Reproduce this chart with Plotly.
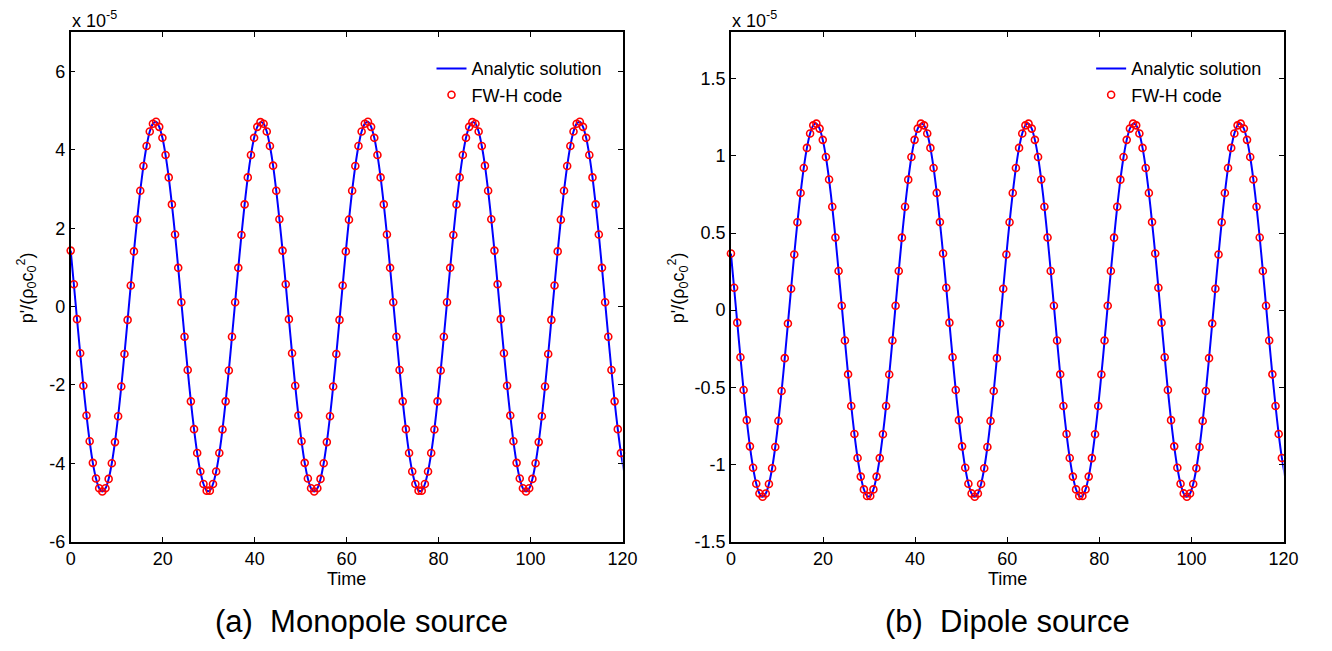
import plotly.graph_objects as go

# ---------------- data ----------------
# sampling of the FW-H code output (time)
t_start = 0.0
t_step = 0.6876

# Monopole source, p'/(rho0 c0^2) in units of 1e-5
monopole = [
    1.43, 0.57, -0.32, -1.19, -2.02, -2.78, -3.44, -3.99, -4.39, -4.64,
    -4.72, -4.64, -4.40, -4.00, -3.46, -2.80, -2.04, -1.21, -0.34, 0.54,
    1.41, 2.22, 2.96, 3.59, 4.10, 4.47, 4.67, 4.72, 4.59, 4.31,
    3.87, 3.30, 2.61, 1.84, 0.99, 0.11, -0.77, -1.62, -2.42, -3.13,
    -3.74, -4.21, -4.53, -4.70, -4.70, -4.53, -4.21, -3.74, -3.14, -2.42,
    -1.63, -0.77, 0.11, 0.99, 1.83, 2.61, 3.30, 3.87, 4.31, 4.59,
    4.71, 4.67, 4.47, 4.10, 3.60, 2.96, 2.23,
    1.43, 0.57, -0.32, -1.19, -2.02, -2.78, -3.44, -3.99, -4.39, -4.64,
    -4.72, -4.64, -4.40, -4.00, -3.46, -2.80, -2.04, -1.21, -0.34, 0.54,
    1.41, 2.22, 2.96, 3.59, 4.10, 4.47, 4.67, 4.72, 4.59, 4.31,
    3.87, 3.30, 2.61, 1.84, 0.99, 0.11, -0.77, -1.62, -2.42, -3.13,
    -3.74, -4.21, -4.53, -4.70, -4.70, -4.53, -4.21, -3.74, -3.14, -2.42,
    -1.63, -0.77, 0.11, 0.99, 1.83, 2.61, 3.30, 3.87, 4.31, 4.59,
    4.71, 4.67, 4.47, 4.10, 3.60, 2.96, 2.23,
    1.43, 0.57, -0.32, -1.19, -2.02, -2.78, -3.44, -3.99, -4.39, -4.64,
    -4.72, -4.64, -4.40, -4.00, -3.46, -2.80, -2.04, -1.21, -0.34, 0.54,
    1.41, 2.22, 2.96, 3.59, 4.10, 4.47, 4.67, 4.72, 4.59, 4.31,
    3.87, 3.30, 2.61, 1.84, 0.99, 0.11, -0.77, -1.62, -2.42, -3.13,
    -3.74, -4.21,
]

# Dipole source, p'/(rho0 c0^2) in units of 1e-5
dipole = [
    0.367, 0.145, -0.081, -0.305, -0.518, -0.713, -0.883, -1.022, -1.125, -1.188,
    -1.210, -1.189, -1.127, -1.025, -0.887, -0.718, -0.524, -0.311, -0.087, 0.139,
    0.361, 0.570, 0.759, 0.922, 1.052, 1.145, 1.198, 1.209, 1.177, 1.104,
    0.993, 0.847, 0.670, 0.471, 0.254, 0.029, -0.197, -0.416, -0.621, -0.803,
    -0.958, -1.079, -1.162, -1.205, -1.205, -1.162, -1.079, -0.959, -0.804, -0.621,
    -0.417, -0.197, 0.029, 0.254, 0.470, 0.670, 0.846, 0.993, 1.104, 1.177,
    1.209, 1.198, 1.145, 1.052, 0.922, 0.760, 0.571,
    0.367, 0.145, -0.081, -0.305, -0.518, -0.713, -0.883, -1.022, -1.125, -1.188,
    -1.210, -1.189, -1.127, -1.025, -0.887, -0.718, -0.524, -0.311, -0.087, 0.139,
    0.361, 0.570, 0.759, 0.922, 1.052, 1.145, 1.198, 1.209, 1.177, 1.104,
    0.993, 0.847, 0.670, 0.471, 0.254, 0.029, -0.197, -0.416, -0.621, -0.803,
    -0.958, -1.079, -1.162, -1.205, -1.205, -1.162, -1.079, -0.959, -0.804, -0.621,
    -0.417, -0.197, 0.029, 0.254, 0.470, 0.670, 0.846, 0.993, 1.104, 1.177,
    1.209, 1.198, 1.145, 1.052, 0.922, 0.760, 0.571,
    0.367, 0.145, -0.081, -0.305, -0.518, -0.713, -0.883, -1.022, -1.125, -1.188,
    -1.210, -1.189, -1.127, -1.025, -0.887, -0.718, -0.524, -0.311, -0.087, 0.139,
    0.361, 0.570, 0.759, 0.922, 1.052, 1.145, 1.198, 1.209, 1.177, 1.104,
    0.993, 0.847, 0.670, 0.471, 0.254, 0.029, -0.197, -0.416, -0.621, -0.803,
    -0.958, -1.079,
]

x_ticks = [0, 20, 40, 60, 80, 100, 120]
x_ticklabels = ["0", "20", "40", "60", "80", "100", "120"]
ya_ticks = [-6, -4, -2, 0, 2, 4, 6]
ya_ticklabels = ["-6", "-4", "-2", "0", "2", "4", "6"]
yb_ticks = [-1.5, -1, -0.5, 0, 0.5, 1, 1.5]
yb_ticklabels = ["-1.5", "-1", "-0.5", "0", "0.5", "1", "1.5"]

series_names = ["Analytic solution", "FW-H code"]
captions = ["(a)\u00a0\u00a0Monopole source", "(b)\u00a0\u00a0Dipole source"]

# ---------------- figure ----------------
W, H = 1332, 651
FONT = "Liberation Sans, Arial, Helvetica, sans-serif"


def fx(p):
    return p / W


def fy(p):
    return 1 - p / H


BLUE = "#0000FF"
RED = "#FF0000"

fig = go.Figure()

for data, xa, ya, lg in [(monopole, "x", "y", "legend"), (dipole, "x2", "y2", "legend2")]:
    fig.add_trace(go.Scatter(
        x0=t_start, dx=t_step, y=data, mode="lines", name=series_names[0],
        line=dict(color=BLUE, width=2, shape="spline", smoothing=0.8),
        xaxis=xa, yaxis=ya, legend=lg, cliponaxis=True,
    ))
    fig.add_trace(go.Scatter(
        x0=t_start, dx=t_step, y=data, mode="markers", name=series_names[1],
        marker=dict(symbol="circle-open", size=7, color=RED, line=dict(width=1.6, color=RED)),
        xaxis=xa, yaxis=ya, legend=lg, cliponaxis=False,
    ))

axis_common = dict(
    showline=True, linecolor="black", linewidth=1.5, mirror="ticks",
    ticks="inside", ticklen=5, tickwidth=1, tickcolor="black",
    showgrid=False, zeroline=False,
    tickfont=dict(family=FONT, size=18, color="black"),
)

x_left_a, x_right_a = 66.7, 627
x_left_b, x_right_b = 737, 1298
y_top, y_bot = 33, 550

fig.update_layout(
    width=W, height=H,
    margin=dict(l=0, r=0, t=0, b=0),
    paper_bgcolor="white", plot_bgcolor="white",
    font=dict(family=FONT, size=18, color="black"),
    xaxis=dict(domain=[fx(x_left_a), fx(x_right_a)], range=[0, 120], anchor="y",
               tickvals=x_ticks, ticktext=x_ticklabels, **axis_common),
    yaxis=dict(domain=[fy(y_bot), fy(y_top)], range=[-6, 7], anchor="x",
               tickvals=ya_ticks, ticktext=ya_ticklabels, **axis_common),
    xaxis2=dict(domain=[fx(x_left_b), fx(x_right_b)], range=[0, 120], anchor="y2",
                tickvals=x_ticks, ticktext=x_ticklabels, **axis_common),
    yaxis2=dict(domain=[fy(y_bot), fy(y_top)], range=[-1.5, 1.8], anchor="x2",
                tickvals=yb_ticks, ticktext=yb_ticklabels, **axis_common),
    legend=dict(x=fx(433), y=fy(51), xanchor="left", yanchor="top",
                bgcolor="rgba(0,0,0,0)", font=dict(family=FONT, size=18, color="black")),
    legend2=dict(x=fx(1102.7), y=fy(51), xanchor="left", yanchor="top",
                 bgcolor="rgba(0,0,0,0)", font=dict(family=FONT, size=18, color="black")),
    showlegend=True,
)

ylab = "p'/(\u03c1<sub>0</sub>c<sub>0</sub><sup>2</sup>)"
annots = []
for xl, xr, ylx, cap in [(x_left_a, x_right_a, 22, captions[0]), (x_left_b, x_right_b, 683, captions[1])]:
    annots.append(dict(text="Time", x=fx((xl + xr) / 2), y=fy(588), xref="paper", yref="paper",
                       xanchor="center", yanchor="middle", showarrow=False,
                       font=dict(family=FONT, size=18, color="black")))
    annots.append(dict(text=ylab, x=fx(ylx), y=fy(292), xref="paper", yref="paper",
                       xanchor="center", yanchor="middle", showarrow=False, textangle=-90,
                       font=dict(family=FONT, size=18, color="black")))
    annots.append(dict(text="x 10<sup>-5</sup>", x=fx(xl - 1), y=fy(34), xref="paper", yref="paper",
                       xanchor="left", yanchor="bottom", showarrow=False,
                       font=dict(family=FONT, size=18, color="black")))
annots.append(dict(text=captions[0], x=fx(362), y=fy(631), xref="paper", yref="paper",
                   xanchor="center", yanchor="middle", showarrow=False,
                   font=dict(family=FONT, size=31, color="black")))
annots.append(dict(text=captions[1], x=fx(1018), y=fy(631), xref="paper", yref="paper",
                   xanchor="center", yanchor="middle", showarrow=False,
                   font=dict(family=FONT, size=31, color="black")))
fig.update_layout(annotations=annots)

fig.write_html("out.html")
